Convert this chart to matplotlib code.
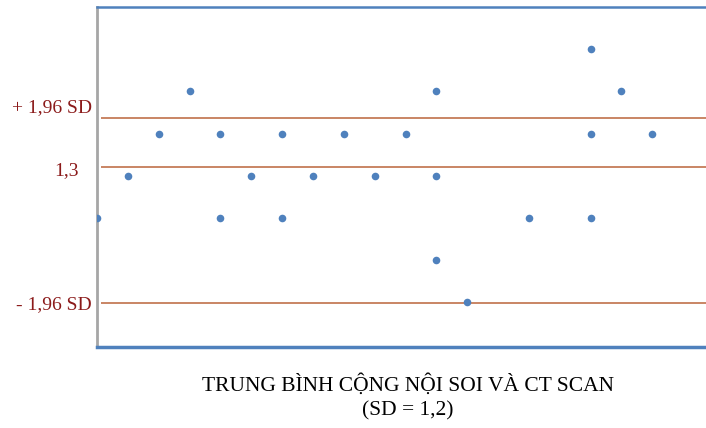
import matplotlib
matplotlib.use("Agg")
import matplotlib.pyplot as plt

# Data: x = case index along the mean axis, y = difference
x_vals = [0, 1, 2, 3, 4, 4, 5, 6, 6, 7, 8, 9, 10, 11, 11, 11, 12, 14, 16, 16, 16, 17, 18]
y_vals = [0, 1, 2, 3, 2, 0, 1, 2, 0, 1, 2, 1, 2, 3, 1, -1, -2, 0, 4, 2, 0, 3, 2]
# Reference lines (upper limit, mean, lower limit)
line_vals = [2.37, 1.21, -2.01]
line_labels = ["+ 1,96 SD", "1,3", "- 1,96 SD"]
title_lines = ["TRUNG BÌNH CỘNG NỘI SOI VÀ CT SCAN", "(SD = 1,2)"]

fig = plt.figure(figsize=(7.06, 4.28), dpi=100)
ax = fig.add_axes([97/706, (428-347)/428, 609/706, 340/428])
ax.set_xlim(0, 19.74)
ax.set_ylim(-3.06, 5.0)

for v in line_vals:
    ax.plot([0.12, 19.74], [v, v], color="#C0714A", lw=1.2, solid_capstyle="butt", zorder=2)

ax.scatter(x_vals, y_vals, s=30, color="#4F81BD", zorder=3, clip_on=True, linewidths=0)

ax.spines["right"].set_visible(False)
ax.spines["left"].set_color("#A6A6A6")
ax.spines["left"].set_linewidth(2)
ax.spines["top"].set_color("#4F81BD")
ax.spines["top"].set_linewidth(1.8)
ax.spines["bottom"].set_color("#4F81BD")
ax.spines["bottom"].set_linewidth(2.5)
ax.set_xticks([])
ax.set_yticks([])

lab_color = "#8B1A1A"
ax.text(-0.17, 2.62, line_labels[0], ha="right", va="center", fontsize=14,
        family="Liberation Serif", color=lab_color)
ax.text(-0.58, 1.12, line_labels[1], ha="right", va="center", fontsize=14,
        family="Liberation Serif", color=lab_color)
ax.text(-0.17, -2.05, line_labels[2], ha="right", va="center", fontsize=14,
        family="Liberation Serif", color=lab_color)

fig.text(408/706, 1 - 385/428, title_lines[0], ha="center", va="center",
         fontsize=15.5, family="Liberation Serif", color="black")
fig.text(408/706, 1 - 411/428, title_lines[1], ha="center", va="center",
         fontsize=15.5, family="Liberation Serif", color="black")

fig.savefig("out.png", dpi=100)
